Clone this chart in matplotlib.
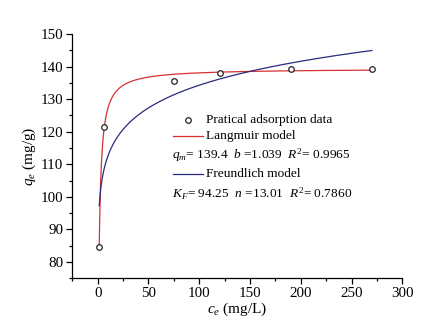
import numpy as np
import matplotlib
matplotlib.use("Agg")
import matplotlib.pyplot as plt
from matplotlib.ticker import MultipleLocator

# measured adsorption data
ce = [1.5, 5.8, 75, 120, 190, 270]
qe = [84.6, 121.5, 135.7, 138.1, 139.1, 139.4]

# fitted parameters printed on the chart
langmuir_qm = 139.4
langmuir_b = 1.039
freundlich_kf = 94.25
freundlich_n = 13.01

plt.rcParams['font.family'] = ['Liberation Serif', 'DejaVu Serif']
plt.rcParams['mathtext.fontset'] = 'custom'
plt.rcParams['mathtext.rm'] = 'Liberation Serif'
plt.rcParams['mathtext.it'] = 'Liberation Serif:italic'
fs = 9.6

fig = plt.figure(figsize=(4.37, 3.30), dpi=100)
ax = fig.add_axes([0.1655, 0.1567, 0.7551, 0.7403])

# model curves over the range of the measured data
c = np.linspace(min(ce), max(ce), 600)
q_lang = langmuir_qm * langmuir_b * c / (1 + langmuir_b * c)
q_freu = freundlich_kf * c ** (1.0 / freundlich_n)

ax.plot(c, q_lang, color='#d83030', lw=0.9)
ax.plot(c, q_freu, color='#2a2a80', lw=0.9)
ax.plot(ce, qe, 'o', mfc='white', mec='#222222', ms=4, mew=0.9, zorder=3)

ax.set_xlim(-25, 300)
ax.set_ylim(75, 150)
ax.xaxis.set_major_locator(MultipleLocator(50))
ax.xaxis.set_minor_locator(MultipleLocator(25))
ax.yaxis.set_major_locator(MultipleLocator(10))
ax.yaxis.set_minor_locator(MultipleLocator(5))
ax.spines['top'].set_visible(False)
ax.spines['right'].set_visible(False)
for s in ('left', 'bottom'):
    ax.spines[s].set_linewidth(0.9)
ax.tick_params(which='major', direction='out', length=4, width=0.9,
               labelsize=10.8, pad=2.5)
ax.tick_params(which='minor', direction='out', length=2.5, width=0.9)

ax.set_xlabel(r'$c_e$ (mg/L)', fontsize=11, labelpad=0)
ax.set_ylabel(r'$q_e$ (mg/g)', fontsize=11, labelpad=2)

# legend block drawn by hand (two rows carry fit parameters)
tr = fig.transFigure
W, H = 437.0, 330.0
def fx(px):
    return px / W
def fy(py):
    return 1 - py / H

fig.lines.append(plt.Line2D([fx(188.3)], [fy(120)], marker='o', mfc='white',
                            mec='#222222', ms=4, mew=0.9, transform=tr))
fig.text(fx(206.5), fy(120), 'Pratical adsorption data', fontsize=fs, va='center')
fig.lines.append(plt.Line2D([fx(173.3), fx(203.3)], [fy(136), fy(136)],
                            color='#d83030', lw=0.9, transform=tr))
fig.text(fx(206.5), fy(136), 'Langmuir model', fontsize=fs, va='center')
fig.text(fx(172.5), fy(155),
         r'$q_m$= 139.4  $b$ =1.039  $R^2$= 0.9965', fontsize=fs, va='center')
fig.lines.append(plt.Line2D([fx(173.3), fx(203.3)], [fy(174.3), fy(174.3)],
                            color='#2a2a80', lw=0.9, transform=tr))
fig.text(fx(206.5), fy(174.3), 'Freundlich model', fontsize=fs, va='center')
fig.text(fx(172.5), fy(193.3),
         r'$K_F$= 94.25  $n$ =13.01  $R^2$= 0.7860', fontsize=fs, va='center')

fig.savefig('out.png', dpi=100)
